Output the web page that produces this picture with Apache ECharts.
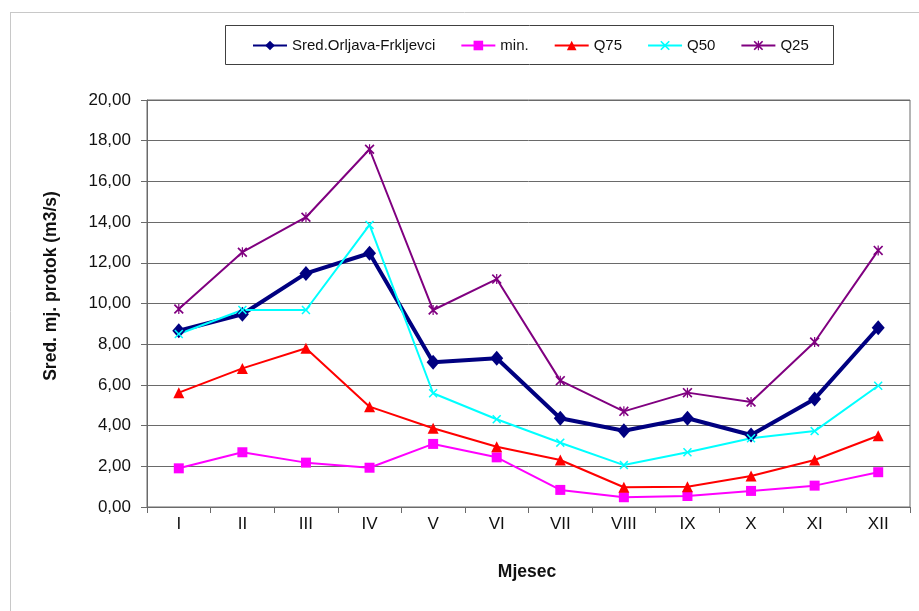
<!DOCTYPE html>
<html>
<head>
<meta charset="utf-8">
<script src="https://cdn.jsdelivr.net/npm/echarts@6/dist/echarts.min.js"></script>
<style>
  html, body { margin: 0; padding: 0; background: #ffffff; }
  #chart { width: 919px; height: 611px; }
</style>
</head>
<body>
<div id="chart"></div>
<script>
// Monthly mean discharge, Orljava at Frkljevci (m3/s)
const months = ['I', 'II', 'III', 'IV', 'V', 'VI', 'VII', 'VIII', 'IX', 'X', 'XI', 'XII'];
const sredOrljava = [8.66, 9.47, 11.48, 12.47, 7.11, 7.31, 4.36, 3.75, 4.36, 3.54, 5.31, 8.81];
const minFlow = [1.90, 2.69, 2.18, 1.93, 3.10, 2.44, 0.84, 0.48, 0.54, 0.79, 1.05, 1.71];
const q75 = [5.62, 6.81, 7.80, 4.93, 3.87, 2.96, 2.31, 0.97, 0.99, 1.52, 2.31, 3.50];
const q50 = [8.50, 9.68, 9.68, 13.86, 5.59, 4.31, 3.16, 2.06, 2.69, 3.38, 3.73, 5.96];
const q25 = [9.73, 12.52, 14.24, 17.58, 9.68, 11.20, 6.21, 4.70, 5.62, 5.16, 8.11, 12.61];
const yTicks = { min: 0, max: 20, step: 2 };

const FONT = '"Liberation Sans", Arial, sans-serif';

// cross and asterisk markers as filled outlines
const crossPath = 'path://M0,1.2 L1.2,0 L5,3.8 L8.8,0 L10,1.2 L6.2,5 L10,8.8 L8.8,10 L5,6.2 L1.2,10 L0,8.8 L3.8,5 Z';
const starPath = 'path://M0,1.2 L1.2,0 L5,3.8 L8.8,0 L10,1.2 L6.2,5 L10,8.8 L8.8,10 L5,6.2 L1.2,10 L0,8.8 L3.8,5 Z ' +
                 'M4.4,0 L5.6,0 L5.6,10 L4.4,10 Z';

function lineSeries(name, data, color, width, symbol, size) {
  return {
    name: name,
    type: 'line',
    data: data,
    symbol: symbol,
    symbolSize: size,
    showSymbol: true,
    lineStyle: { color: color, width: width },
    itemStyle: { color: color, borderWidth: 0 },
    emphasis: { disabled: true },
    animation: false
  };
}

const chart = echarts.init(document.getElementById('chart'), null, { renderer: 'canvas' });

chart.setOption({
  backgroundColor: '#ffffff',
  animation: false,
  textStyle: { fontFamily: FONT },
  grid: {
    left: 147, right: 9, top: 100, bottom: 104,
    show: true, borderColor: '#6a6a6a', borderWidth: 1, backgroundColor: 'transparent'
  },
  legend: {
    left: 252, top: 38,
    padding: 0,
    itemWidth: 34, itemHeight: 12, itemGap: 25,
    textStyle: { fontFamily: FONT, fontSize: 15, color: '#111' },
    selectedMode: false
  },
  xAxis: {
    type: 'category',
    data: months,
    boundaryGap: true,
    axisLine: { lineStyle: { color: '#6a6a6a', width: 1 } },
    axisTick: { show: true, length: 6, lineStyle: { color: '#6a6a6a' } },
    axisLabel: { fontFamily: FONT, fontSize: 17, color: '#111', margin: 9 },
    splitLine: { show: false }
  },
  yAxis: {
    type: 'value',
    min: yTicks.min, max: yTicks.max, interval: yTicks.step,
    axisLine: { show: true, lineStyle: { color: '#6a6a6a', width: 1 } },
    axisTick: { show: true, length: 6, inside: false, lineStyle: { color: '#6a6a6a' } },
    axisLabel: {
      fontFamily: FONT, fontSize: 17, color: '#111', margin: 16,
      formatter: v => v.toFixed(2).replace('.', ',')
    },
    splitLine: { show: true, lineStyle: { color: '#6a6a6a', width: 1 } }
  },
  graphic: [
    // outer frame (top and left edges)
    { type: 'line', shape: { x1: 10, y1: 12.5, x2: 919, y2: 12.5 }, style: { stroke: '#c8c8c8', lineWidth: 1 }, silent: true },
    { type: 'line', shape: { x1: 10.5, y1: 12, x2: 10.5, y2: 611 }, style: { stroke: '#c8c8c8', lineWidth: 1 }, silent: true },
    // legend frame
    { type: 'rect', shape: { x: 225.5, y: 25.5, width: 608, height: 39 }, style: { fill: 'none', stroke: '#404040', lineWidth: 1 }, silent: true, z: -1 },
    // axis titles
    {
      type: 'text', x: 51, y: 286, rotation: Math.PI / 2,
      style: { text: 'Sred. mj. protok (m3/s)', font: 'bold 17.5px ' + FONT, fill: '#111', align: 'center', verticalAlign: 'middle' },
      silent: true
    },
    {
      type: 'text', x: 527, y: 572,
      style: { text: 'Mjesec', font: 'bold 17.5px ' + FONT, fill: '#111', align: 'center', verticalAlign: 'middle' },
      silent: true
    }
  ],
  series: [
    lineSeries('Sred.Orljava-Frkljevci', sredOrljava, '#000080', 4, 'diamond', [13, 15]),
    lineSeries('min.', minFlow, '#ff00ff', 2, 'rect', 10),
    lineSeries('Q75', q75, '#ff0000', 2, 'triangle', 11),
    lineSeries('Q50', q50, '#00ffff', 2, crossPath, 9),
    lineSeries('Q25', q25, '#800080', 2, starPath, 10)
  ]
});
</script>
</body>
</html>
